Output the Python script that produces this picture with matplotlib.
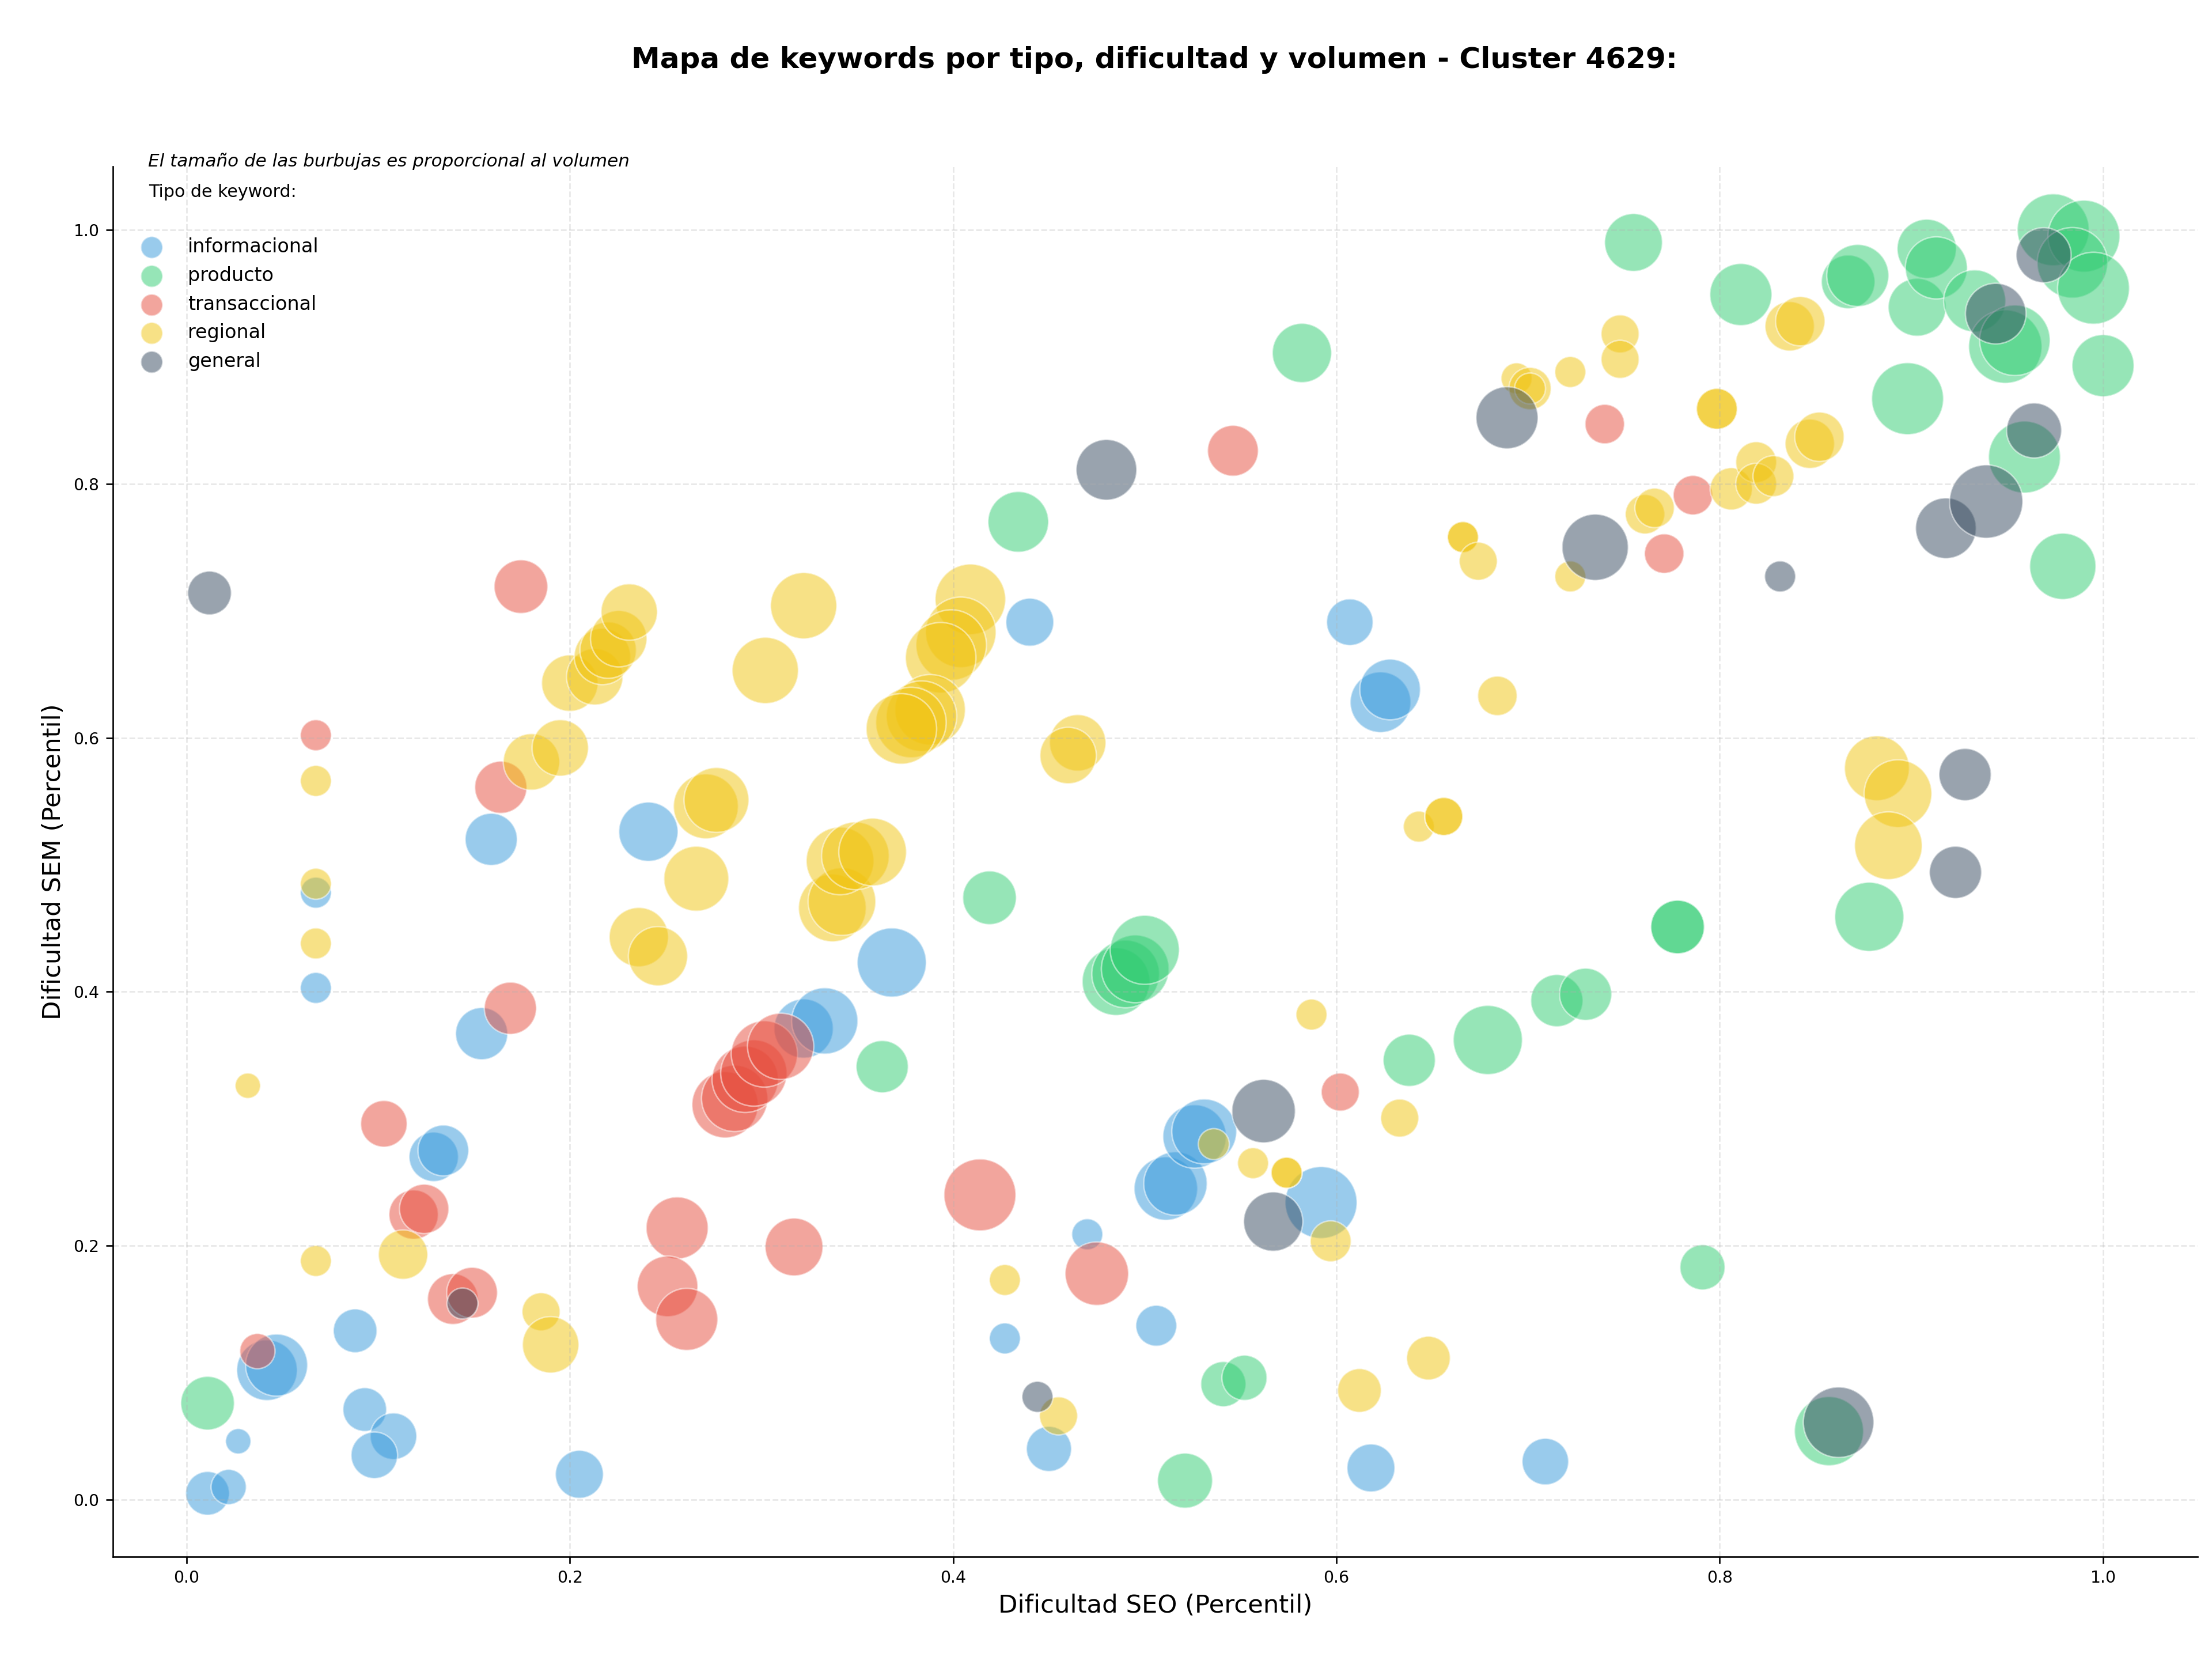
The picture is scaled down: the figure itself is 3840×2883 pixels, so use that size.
import numpy as np
import matplotlib
matplotlib.use("Agg")
import matplotlib.pyplot as plt

# Datos (x = dificultad SEO, y = dificultad SEM, volumen)
tipos = ["informacional", "producto", "transaccional", "regional", "general"]
colores = ["#3498db", "#2ecc71", "#e74c3c", "#f1c40f", "#34495e"]

info_x = [0.011, 0.022, 0.027, 0.042, 0.047, 0.088, 0.093, 0.108, 0.098, 0.205, 0.0675, 0.0675,
          0.154, 0.129, 0.134, 0.159, 0.241, 0.440, 0.368, 0.322, 0.333, 0.470, 0.427, 0.450,
          0.506, 0.511, 0.516, 0.526, 0.531, 0.592, 0.618, 0.607, 0.623, 0.628, 0.709]
info_y = [0.005, 0.010, 0.046, 0.102, 0.106, 0.133, 0.071, 0.050, 0.035, 0.020, 0.403, 0.478,
          0.367, 0.270, 0.275, 0.520, 0.526, 0.691, 0.423, 0.371, 0.377, 0.209, 0.127, 0.040,
          0.137, 0.245, 0.249, 0.286, 0.290, 0.234, 0.025, 0.691, 0.628, 0.638, 0.030]
info_vol = [9610, 6250, 3240, 18490, 19360, 9610, 9610, 10890, 10890, 11560, 4840, 4840,
            13690, 12250, 12960, 13690, 17640, 11560, 24010, 17640, 22090, 4840, 4840, 10240,
            8410, 20250, 20250, 20250, 21160, 26010, 11560, 10890, 18490, 18490, 10890]

prod_x = [0.011, 0.419, 0.363, 0.485, 0.490, 0.495, 0.500, 0.541, 0.552, 0.521, 0.638, 0.679,
          0.715, 0.730, 0.778, 0.778, 0.878, 0.791, 0.857, 0.755, 0.811, 0.867, 0.872, 0.903,
          0.908, 0.913, 0.933, 0.949, 0.954, 0.898, 0.959, 0.979, 1.000, 0.974, 0.990, 0.984,
          0.995, 0.582, 0.434]
prod_y = [0.076, 0.474, 0.341, 0.408, 0.414, 0.418, 0.433, 0.091, 0.096, 0.015, 0.346, 0.362,
          0.393, 0.398, 0.451, 0.451, 0.459, 0.183, 0.054, 0.990, 0.949, 0.959, 0.964, 0.939,
          0.985, 0.970, 0.944, 0.908, 0.913, 0.867, 0.821, 0.735, 0.893, 1.000, 0.995, 0.974,
          0.954, 0.903, 0.770]
prod_vol = [14440, 14440, 13690, 23040, 23040, 23040, 24010, 10240, 10240, 15210, 13690, 24010,
            13690, 13690, 14440, 14440, 24010, 10240, 24010, 16810, 19360, 14440, 19360, 16810,
            17640, 19360, 19360, 27040, 25000, 26010, 26010, 22090, 19360, 26010, 26010, 25000,
            26010, 17640, 18490]

trans_x = [0.1745, 0.0675, 0.164, 0.169, 0.103, 0.1185, 0.124, 0.139, 0.149, 0.037, 0.256, 0.251,
           0.261, 0.317, 0.281, 0.286, 0.2915, 0.296, 0.3015, 0.310, 0.414, 0.475, 0.602, 0.546,
           0.740, 0.786, 0.771]
trans_y = [0.719, 0.602, 0.561, 0.387, 0.296, 0.2245, 0.229, 0.158, 0.163, 0.117, 0.214, 0.168,
           0.142, 0.199, 0.311, 0.316, 0.331, 0.336, 0.351, 0.357, 0.240, 0.178, 0.321, 0.826,
           0.847, 0.791, 0.745]
trans_vol = [14440, 4840, 13690, 13690, 10890, 12250, 12250, 12960, 12960, 6250, 19360, 18490,
             19360, 16810, 22090, 22090, 22090, 22090, 22090, 22090, 26010, 20250, 7290, 12960,
             7840, 7840, 7840]

reg_x = [0.032, 0.0675, 0.0675, 0.0675, 0.0675, 0.113, 0.185, 0.190, 0.236, 0.246, 0.266, 0.302,
         0.322, 0.200, 0.213, 0.217, 0.220, 0.2255, 0.231, 0.180, 0.195, 0.271, 0.2765, 0.337,
         0.342, 0.341, 0.349, 0.358, 0.409, 0.404, 0.399, 0.3935, 0.388, 0.3835, 0.378, 0.373,
         0.465, 0.460, 0.666, 0.666, 0.674, 0.684, 0.643, 0.656, 0.656, 0.587, 0.536, 0.5565,
         0.574, 0.574, 0.597, 0.427, 0.455, 0.633, 0.612, 0.648, 0.694, 0.701, 0.701, 0.722,
         0.748, 0.748, 0.722, 0.761, 0.766, 0.7985, 0.7985, 0.806, 0.819, 0.819, 0.828, 0.8365,
         0.842, 0.847, 0.852, 0.882, 0.893, 0.888]
reg_y = [0.326, 0.188, 0.438, 0.485, 0.566, 0.193, 0.148, 0.122, 0.443, 0.428, 0.489, 0.653,
         0.704, 0.643, 0.648, 0.664, 0.669, 0.678, 0.699, 0.581, 0.592, 0.546, 0.551, 0.466,
         0.471, 0.503, 0.507, 0.510, 0.709, 0.683, 0.673, 0.663, 0.622, 0.617, 0.612, 0.607,
         0.596, 0.586, 0.758, 0.758, 0.739, 0.633, 0.530, 0.538, 0.538, 0.382, 0.280, 0.265,
         0.2575, 0.2575, 0.2035, 0.173, 0.066, 0.3005, 0.086, 0.1115, 0.883, 0.875, 0.875, 0.888,
         0.918, 0.898, 0.727, 0.776, 0.781, 0.859, 0.859, 0.796, 0.817, 0.800, 0.806, 0.924,
         0.928, 0.8315, 0.837, 0.576, 0.556, 0.515]
reg_vol = [3240, 4840, 4840, 4840, 4840, 12250, 7290, 16000, 17640, 17640, 21160, 22090,
           22090, 16000, 16000, 16000, 16000, 16000, 16000, 16000, 16000, 21160, 21160, 23040,
           23040, 23040, 23040, 23040, 25000, 25000, 25000, 25000, 25000, 25000, 25000, 25000,
           16000, 16000, 4840, 4840, 7290, 7840, 4840, 7290, 7290, 4840, 4840, 4840,
           4840, 4840, 8410, 4840, 7290, 7290, 9610, 9610, 4840, 9000, 4840, 4840,
           7290, 7290, 4840, 7840, 7840, 8410, 8410, 9000, 8410, 8410, 8410, 12250,
           12250, 12250, 12250, 21160, 23040, 23040]

gen_x = [0.012, 0.480, 0.689, 0.735, 0.8315, 0.918, 0.939, 0.964, 0.944, 0.969, 0.928, 0.923,
         0.862, 0.562, 0.567, 0.444, 0.144]
gen_y = [0.714, 0.811, 0.852, 0.750, 0.727, 0.765, 0.786, 0.842, 0.934, 0.980, 0.571, 0.494,
         0.061, 0.306, 0.219, 0.081, 0.1545]
gen_vol = [9610, 18490, 19360, 22090, 4840, 18490, 27040, 15210, 18490, 15210, 13690, 13690,
           25000, 20250, 17640, 4840, 4840]

series_x = [info_x, prod_x, trans_x, reg_x, gen_x]
series_y = [info_y, prod_y, trans_y, reg_y, gen_y]
series_vol = [info_vol, prod_vol, trans_vol, reg_vol, gen_vol]

# Figura
fig = plt.figure(figsize=(16, 12.0125), dpi=240)
ax = fig.add_axes([0.051, 0.0629, 0.9426, 0.8368])

for tipo, color, xs, ys, vol in zip(tipos, colores, series_x, series_y, series_vol):
    sizes = np.array(vol) * 0.0539
    ax.scatter(xs, ys, s=sizes, color=color, alpha=0.5, edgecolors="white", linewidths=0.8)

# Leyenda con marcadores de tamano fijo
handles = []
for tipo, color in zip(tipos, colores):
    h = ax.scatter([], [], s=130, color=color, alpha=0.5, edgecolors="white",
                   linewidths=0.8, label=tipo)
    handles.append(h)
leg = ax.legend(handles=handles, title="Tipo de keyword:\n", loc="upper left",
                bbox_to_anchor=(0.0088, 1.0), frameon=False, fontsize=10,
                title_fontsize=9, alignment="left", handlelength=0.3, handletextpad=1.75)
leg.get_title().set_linespacing(1.8)

ax.text(0.017, 1.004, "El tamaño de las burbujas es proporcional al volumen",
        transform=ax.transAxes, fontsize=9.3, style="italic", va="center", ha="left")

fig.text(0.522, 0.964, "Mapa de keywords por tipo, dificultad y volumen - Cluster 4629:",
         ha="center", va="center", fontsize=15, fontweight="bold")

ax.set_xlabel("Dificultad SEO (Percentil)", fontsize=13)
ax.set_ylabel("Dificultad SEM (Percentil)", fontsize=13)
ax.tick_params(labelsize=8.5)
ax.grid(True, linestyle="--", alpha=0.3)
ax.spines["top"].set_visible(False)
ax.spines["right"].set_visible(False)

fig.savefig("out.png", dpi=240)
